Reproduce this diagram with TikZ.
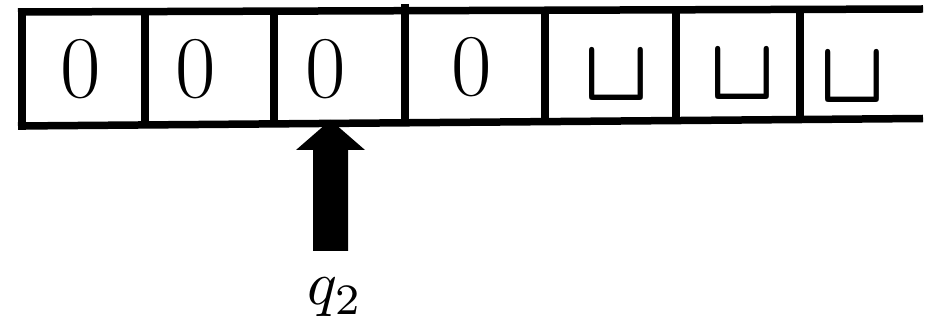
\documentclass[tikz,border=0pt]{standalone}
\usepackage{amsmath,amsbsy}
\begin{document}
\begin{tikzpicture}[x=1pt,y=-1pt,
  tapeline/.style={line width=7.5pt,line cap=butt},
  sym/.style={inner sep=0pt,font=\fontsize{88}{88}\selectfont},
  blank/.style={inner sep=0pt,xscale=8.6,yscale=8.8},
  head/.style={fill=black,draw=none}]
\useasboundingbox (0,0) rectangle (935,328);
% tape borders
\coordinate (tl) at (18,12);
\coordinate (tr) at (923,9);
\coordinate (bl) at (18,126);
\coordinate (br) at (923,118.5);
\draw[tapeline] (tl) -- (tr);
\draw[tapeline] (bl) -- (br);
% cell dividers
\foreach \x/\yt/\yb in {22/8.3/129.7,145/11.6/124.9,274/11.2/123.7,405/4/122.6,545/10.3/121.3,676/9.8/120.2,800/9.4/119.1}{
  \draw[tapeline] (\x,\yt) -- (\x,\yb);
}
% cell contents
\node[sym] (c1) at (81,69) {0};
\node[sym] (c2) at (196,69) {0};
\node[sym] (c3) at (326,69) {0};
\node[sym] (c4) at (472,67) {0};
\node[blank] (c5) at (616,76) {$\boldsymbol{\sqcup}$};
\node[blank] (c6) at (742,75) {$\boldsymbol{\sqcup}$};
\node[blank] (c7) at (852,78) {$\boldsymbol{\sqcup}$};
% head arrow
\fill[head] (313,251) -- (313,150) -- (296,150) -- (330.5,120) -- (365,150) -- (348,150) -- (348,251) -- cycle;
\node[inner sep=0pt,anchor=base,scale=6.2] (q) at (335,305) {$q_2$};
\end{tikzpicture}
\end{document}
